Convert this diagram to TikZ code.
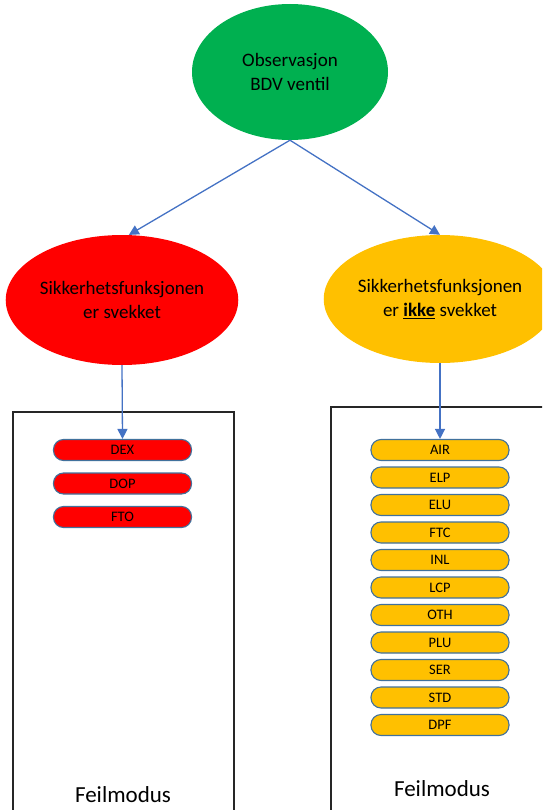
\documentclass[tikz,border=0pt]{standalone}
\usepackage{fontspec}
\setmainfont{Carlito}
\usetikzlibrary{shapes.geometric,arrows.meta}
\definecolor{obsgreen}{HTML}{00B050}
\definecolor{weakred}{HTML}{FF0000}
\definecolor{okamber}{HTML}{FFC000}
\definecolor{linkblue}{HTML}{4472C4}
\definecolor{pillline}{HTML}{41719C}
\definecolor{frameline}{HTML}{262626}
\tikzset{
  bubble/.style={ellipse, inner sep=0pt, align=center, font=\fontsize{19}{24}\selectfont},
  pill/.style={rounded corners=10pt, draw=pillline, line width=1.1pt,
    minimum width=138pt, minimum height=21pt, inner sep=0pt,
    font=\fontsize{14.5}{16}\selectfont},
  redpill/.style={pill, fill=weakred},
  amberpill/.style={pill, fill=okamber},
  link/.style={draw=linkblue, line width=1.3pt, -{Triangle[length=10pt,width=10pt]}},
  frame/.style={draw=frameline, line width=1.2pt},
  caption/.style={font=\fontsize{23}{26}\selectfont}
}
\begin{document}
\begin{tikzpicture}[x=1pt,y=-1pt]
\useasboundingbox (0,0) rectangle (542,810);
\begin{scope}
\clip (0,0) rectangle (542,810);

% mode frames (open at the bottom edge)
\draw[frame] (13,412) rectangle (234,830);
\draw[frame] (331,407) rectangle (560,830);

% observation and the two outcomes
\node[bubble, fill=obsgreen, minimum width=196pt, minimum height=136pt] (obs) at (290,72)
  {Observasjon\\BDV ventil};
\node[bubble, fill=weakred, minimum width=222pt, minimum height=130pt] (weak) at (122,300)
  {Sikkerhetsfunksjonen\\er svekket};
\node[bubble, fill=okamber, minimum width=218pt, minimum height=128pt] (ok) at (440,299)
  {Sikkerhetsfunksjonen\\er \textbf{\underline{ikke}} svekket};

% failure modes, impaired function
\node[redpill] (dex) at (122.5,450) {DEX};
\node[redpill] (dop) at (122.5,483.5) {DOP};
\node[redpill] (fto) at (122.5,517) {FTO};

% failure modes, function not impaired
\foreach \name [count=\i from 0] in {AIR,ELP,ELU,FTC,INL,LCP,OTH,PLU,SER,STD,DPF}
  \node[amberpill] (m\name) at (440,450+27.5*\i) {\name};

% captions
\node[caption] (capl) at (123,795) {Feilmodus};
\node[caption] (capr) at (442,789) {Feilmodus};

% connectors
\draw[link] (obs.south) -- (weak.84);
\draw[link] (obs.south) -- (ok.north);
\draw[link] (weak.south) -- (dex.north);
\draw[link] (ok.south) -- (mAIR.north);
\end{scope}
\end{tikzpicture}
\end{document}
